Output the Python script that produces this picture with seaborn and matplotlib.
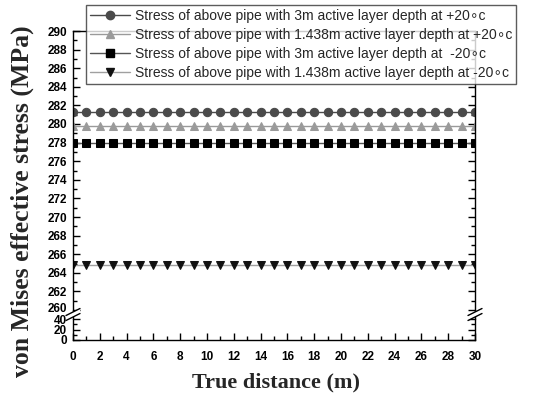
import matplotlib
matplotlib.use("Agg")
import matplotlib.pyplot as plt
import seaborn as sns
import pandas as pd
from matplotlib.lines import Line2D
from matplotlib.patches import Polygon
from matplotlib.transforms import ScaledTranslation

distance = [0, 1, 2, 3, 4, 5, 6, 7, 8, 9, 10, 11, 12, 13, 14, 15,
            16, 17, 18, 19, 20, 21, 22, 23, 24, 25, 26, 27, 28, 29, 30]
stress_3m_pos20 = [281.3, 281.3, 281.3, 281.3, 281.3, 281.3, 281.3, 281.3,
                   281.3, 281.3, 281.3, 281.3, 281.3, 281.3, 281.3, 281.3,
                   281.3, 281.3, 281.3, 281.3, 281.3, 281.3, 281.3, 281.3,
                   281.3, 281.3, 281.3, 281.3, 281.3, 281.3, 281.3]
stress_1438_pos20 = [279.8, 279.8, 279.8, 279.8, 279.8, 279.8, 279.8, 279.8,
                     279.8, 279.8, 279.8, 279.8, 279.8, 279.8, 279.8, 279.8,
                     279.8, 279.8, 279.8, 279.8, 279.8, 279.8, 279.8, 279.8,
                     279.8, 279.8, 279.8, 279.8, 279.8, 279.8, 279.8]
stress_3m_neg20 = [278.0, 278.0, 278.0, 278.0, 278.0, 278.0, 278.0, 278.0,
                   278.0, 278.0, 278.0, 278.0, 278.0, 278.0, 278.0, 278.0,
                   278.0, 278.0, 278.0, 278.0, 278.0, 278.0, 278.0, 278.0,
                   278.0, 278.0, 278.0, 278.0, 278.0, 278.0, 278.0]
stress_1438_neg20 = [264.8, 264.8, 264.8, 264.8, 264.8, 264.8, 264.8, 264.8,
                     264.8, 264.8, 264.8, 264.8, 264.8, 264.8, 264.8, 264.8,
                     264.8, 264.8, 264.8, 264.8, 264.8, 264.8, 264.8, 264.8,
                     264.8, 264.8, 264.8, 264.8, 264.8, 264.8, 264.8]

labels = [
    "Stress of above pipe with 3m active layer depth at +20\u2218c",
    "Stress of above pipe with 1.438m active layer depth at +20\u2218c",
    "Stress of above pipe with 3m active layer depth at  -20\u2218c",
    "Stress of above pipe with 1.438m active layer depth at -20\u2218c",
]
series = [stress_3m_pos20, stress_1438_pos20, stress_3m_neg20, stress_1438_neg20]
markers = ["o", "^", "s", "v"]
mcolors = ["#4a4a4a", "#9a9a9a", "#000000", "#111111"]
lcolors = ["#4a4a4a", "#9a9a9a", "#555555", "#a0a0a0"]

sns.set_style("ticks")
plt.rcParams["font.family"] = ["Liberation Sans", "DejaVu Sans"]

fig = plt.figure(figsize=(5.38, 3.99), dpi=100)
W, H = 538.0, 399.0
L, R = 73 / W, 475 / W
ax = fig.add_axes([L, 1 - 310 / H, R - L, (310 - 31) / H])
axb = fig.add_axes([L, 1 - 340 / H, R - L, (340 - 319) / H])

handles = []
for vals, lab, mk, mc, lc in zip(series, labels, markers, mcolors, lcolors):
    df = pd.DataFrame({"x": distance, "y": vals})
    sns.lineplot(data=df, x="x", y="y", ax=ax, color=lc, linewidth=1.0,
                 marker=mk, markersize=6, markerfacecolor=mc,
                 markeredgecolor=mc, legend=False)
    handles.append(Line2D([], [], color=lc, lw=1.0, marker=mk, markersize=6,
                          markerfacecolor=mc, markeredgecolor=mc, label=lab))

ax.set_xlim(0, 30)
ax.set_ylim(260, 290)
axb.set_xlim(0, 30)
axb.set_ylim(0, 40)

ax.set_yticks(range(260, 291, 2))
ax.set_yticks(range(260, 291, 1), minor=True)
axb.set_yticks([0, 20, 40])
axb.set_yticks([10, 30], minor=True)
axb.set_xticks(range(0, 31, 2))
axb.set_xticks(range(0, 31, 1), minor=True)
ax.set_xticks([])
ax.set_xticks([], minor=True)

for a in (ax, axb):
    a.set_xlabel("")
    a.set_ylabel("")
    for s in a.spines.values():
        s.set_linewidth(1.0)
        s.set_color("black")
    a.tick_params(which="both", direction="in", right=True, top=False,
                  width=1.0, colors="black")
    a.tick_params(which="major", length=5)
    a.tick_params(which="minor", length=3)
    for t in a.get_xticklabels() + a.get_yticklabels():
        t.set_fontweight("bold")
        t.set_fontsize(8.5)
        t.set_family(["Liberation Sans", "DejaVu Sans"])
ax.tick_params(axis="y", pad=4.5)
axb.tick_params(axis="y", pad=4.5)
axb.tick_params(axis="x", pad=8)

# nudge the label next to the axis break up slightly
t260 = ax.yaxis.get_major_ticks()[0].label1
t260.set_transform(t260.get_transform() +
                   ScaledTranslation(0, 3.0 / 100, fig.dpi_scale_trans))

ax.spines["bottom"].set_visible(False)
axb.spines["top"].set_visible(False)

# connect spines across the gap and draw break marks
for xs in (L, R):
    fig.add_artist(Line2D([xs, xs], [1 - 319 / H, 1 - 310 / H],
                          transform=fig.transFigure, color="black", lw=1.0))
    cx, cy = xs * W, 314.5
    dx, dy, off = 7, 3.5, 2.5
    poly = Polygon([[(cx - dx) / W, 1 - (cy + dy - off) / H],
                    [(cx + dx) / W, 1 - (cy - dy - off) / H],
                    [(cx + dx) / W, 1 - (cy - dy + off) / H],
                    [(cx - dx) / W, 1 - (cy + dy + off) / H]],
                   closed=True, transform=fig.transFigure,
                   facecolor="white", edgecolor="none", zorder=5)
    fig.add_artist(poly)
    for o in (-off, off):
        fig.add_artist(Line2D([(cx - dx) / W, (cx + dx) / W],
                              [1 - (cy + dy + o) / H, 1 - (cy - dy + o) / H],
                              transform=fig.transFigure, color="black",
                              lw=1.0, zorder=6))

leg = fig.legend(handles=handles, loc="upper left",
                 bbox_to_anchor=(86 / W, 1 - 5 / H), frameon=True,
                 fancybox=False, fontsize=10, handlelength=2.9,
                 handletextpad=0.3, borderpad=0.3, labelspacing=0.35,
                 borderaxespad=0)
leg.get_frame().set_edgecolor("#333333")
leg.get_frame().set_linewidth(1.0)
leg.set_zorder(10)

fig.text(276 / W, 1 - 382 / H, "True distance (m)", ha="center", va="center",
         fontsize=16, fontweight="bold",
         family=["Liberation Serif", "DejaVu Serif"])
fig.text(22 / W, 1 - 201 / H, "von Mises effective stress (MPa)", ha="center",
         va="center", rotation=90, fontsize=18.5, fontweight="bold",
         family=["Liberation Serif", "DejaVu Serif"])

fig.savefig("out.png", dpi=100)
